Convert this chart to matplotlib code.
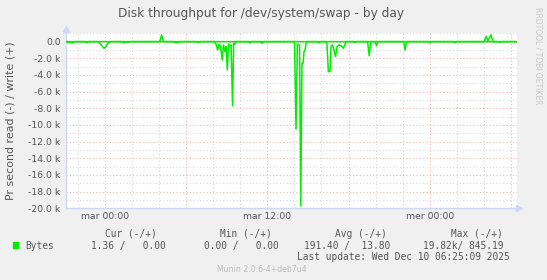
import matplotlib
matplotlib.use("Agg")
import matplotlib.pyplot as plt
import numpy as np

# hours relative to Tue (mar) 00:00, values in bytes per second
read_hours = [-2.88, -2.74, -2.59, -2.44, -2.29, -1.48, -1.33, -1.18,
              -0.52, -0.37, -0.22, -0.07, 0.07, 0.22, 0.37,
              1.26, 1.40, 1.55, 1.70, 1.85, 5.10, 5.25, 5.40, 5.55,
              6.73, 6.88, 7.02,
              8.06, 8.21, 8.33, 8.43, 8.54, 8.67, 8.76, 8.87, 8.95, 9.04,
              9.13, 9.24, 9.32, 9.43, 9.51, 9.61, 9.68,
              10.60, 10.72, 10.84, 11.50, 11.61, 11.72,
              14.01, 14.12, 14.22, 14.38, 14.47, 14.56, 14.64, 14.71, 14.79,
              14.86, 14.93, 15.72, 15.82, 15.92,
              16.34, 16.41, 16.51, 16.63, 16.71, 16.82, 16.93, 17.04, 17.15,
              17.30, 17.45, 17.62, 17.74, 17.82, 18.38, 18.48, 18.58,
              19.41, 19.53, 19.65, 19.96, 20.07, 20.18, 22.07, 22.18, 22.29,
              23.92, 24.03, 24.14, 25.77, 25.87, 25.97, 29.10, 29.20, 29.30,
              30.43]
read_vals = [0, 100, 0, 150, 0, 0, 120, 0,
             0, 200, 500, 800, 600, 200, 0,
             0, 150, 0, 100, 0, 0, 120, 100, 0,
             0, 100, 0,
             0, 300, 1000, 300, 500, 2200, 400, 1200, 600, 3400,
             300, 500, 400, 7700, 200, 300, 0,
             0, 150, 0, 0, 200, 0,
             0, 10500, 300, 400, 19700, 2600, 2600, 1200, 1000,
             200, 0, 0, 150, 0,
             0, 400, 3600, 3600, 500, 400, 1000, 1800, 600,
             400, 500, 800, 300, 0, 0, 100, 0,
             0, 1700, 0, 0, 500, 0, 0, 1000, 0,
             0, 150, 0, 0, 100, 0, 0, 100, 0,
             0]

write_hours = [-2.88, 4.05, 4.19, 4.33, 28.03, 28.17, 28.30, 28.53, 28.67, 30.43]
write_vals = [0, 0, 800, 0, 0, 650, 100, 820, 0, 0]

x_ticks = [0, 12, 24]
x_labels = ["mar 00:00", "mar 12:00", "mer 00:00"]
y_ticks = list(range(-20000, 1, 2000))
y_labels = ["%.1f k" % (v / 1000) if v else "0.0" for v in y_ticks]

col_heads = ["Cur (-/+)", "Min (-/+)", "Avg (-/+)", "Max (-/+)"]
col_vals = ["1.36 /   0.00", "0.00 /   0.00", "191.40 /  13.80", "19.82k/ 845.19"]

W, H = 547, 280
green = "#00ee00"
axis_col = "#cfd6f8"
txt_col = "#555555"


def px(x, y):
    return x / W, 1 - y / H


fig = plt.figure(figsize=(W / 100, H / 100), dpi=100, facecolor="#f0f0f0")
left, right, top, bottom = 66, 516.7, 33.3, 208.3
ax = fig.add_axes([left / W, 1 - bottom / H, (right - left) / W, (bottom - top) / H])
ax.set_facecolor("white")

ax.plot(read_hours, -np.array(read_vals), color=green, lw=1.1, zorder=3)
ax.plot(write_hours, write_vals, color=green, lw=1.1, zorder=3)

ax.set_xlim(-2.88, 30.43)
ax.set_ylim(-20000, 1000)

ax.set_xticks(np.arange(0, 31, 6))
ax.set_xticklabels([x_labels[x_ticks.index(t)] if t in x_ticks else "" for t in range(0, 31, 6)])
ax.set_xticks(np.arange(-2, 31, 2), minor=True)
ax.set_yticks(y_ticks)
ax.set_yticklabels(y_labels)
ax.set_yticks(np.arange(-20000, 1001, 1000), minor=True)

ax.grid(which="major", color="#f3b5b5", lw=0.8, linestyle=(0, (1, 2)))
ax.grid(which="minor", color="#d8d8d8", lw=0.8, linestyle=(0, (1, 2)))
ax.set_axisbelow(True)

ax.tick_params(which="both", length=0, labelsize=6.7, labelcolor=txt_col)
ax.tick_params(axis="y", pad=3.8)
ax.tick_params(axis="x", pad=2.8)

for s in ["top", "right"]:
    ax.spines[s].set_visible(False)
for s in ["left", "bottom"]:
    ax.spines[s].set_color(axis_col)
    ax.spines[s].set_linewidth(1.0)
ax.plot([1.005], [0], marker=">", ms=4, color=axis_col, transform=ax.transAxes, clip_on=False)
ax.plot([0], [1.025], marker="^", ms=4, color=axis_col, transform=ax.transAxes, clip_on=False)

fig.text(*px(260.5, 14), "Disk throughput for /dev/system/swap - by day",
         ha="center", va="center", fontsize=8.7, color=txt_col)
fig.text(*px(11, 121), "Pr second read (-) / write (+)", rotation=90,
         ha="center", va="center", fontsize=7.9, color=txt_col)
fig.text(*px(538, 56), "RRDTOOL / TOBI OETIKER", rotation=270,
         ha="center", va="center", fontsize=5.5, color="#c8c8c8")

mono = "DejaVu Sans Mono"
head_x = [156.7, 272, 386.7, 502.7]
val_x = [166, 279, 390.7, 503.3]
for hx, h in zip(head_x, col_heads):
    fig.text(*px(hx, 234), h, ha="right", va="center", fontsize=6.85, family=mono, color=txt_col)
for vx, v in zip(val_x, col_vals):
    fig.text(*px(vx, 245.7), v, ha="right", va="center", fontsize=6.85, family=mono, color=txt_col)
fig.patches.append(plt.Rectangle(px(13.3, 247.7), 5 / W, 5.4 / H, transform=fig.transFigure,
                                 color=green, figure=fig))
fig.text(*px(25, 245.7), "Bytes", ha="left", va="center", fontsize=6.85, family=mono, color=txt_col)
fig.text(*px(509.3, 257.3), "Last update: Wed Dec 10 06:25:09 2025", ha="right", va="center",
         fontsize=6.85, family=mono, color=txt_col)
fig.text(*px(261.8, 269), "Munin 2.0.6-4+deb7u4", ha="center", va="center",
         fontsize=5.6, color="#bbbbbb")

fig.savefig("out.png", dpi=100, facecolor=fig.get_facecolor())
